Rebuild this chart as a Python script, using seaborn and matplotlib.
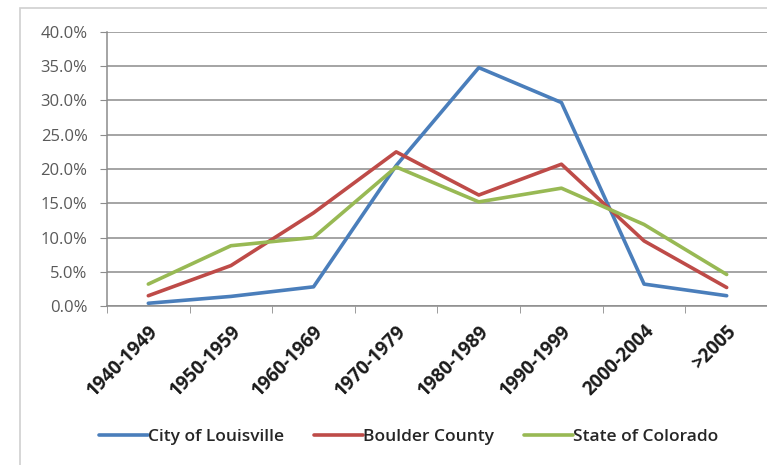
import matplotlib
matplotlib.use("Agg")
import matplotlib.pyplot as plt
from matplotlib.patches import Rectangle
from matplotlib.ticker import FuncFormatter, FixedLocator
import seaborn as sns
import pandas as pd

# Share of housing units by year built (%)
periods = ["1940-1949", "1950-1959", "1960-1969", "1970-1979",
           "1980-1989", "1990-1999", "2000-2004", ">2005"]
louisville = [0.4, 1.4, 2.8, 20.5, 34.8, 29.7, 3.2, 1.5]
boulder = [1.5, 5.9, 13.6, 22.5, 16.2, 20.7, 9.5, 2.7]
colorado = [3.2, 8.8, 10.0, 20.3, 15.2, 17.2, 11.9, 4.6]
series_names = ["City of Louisville", "Boulder County", "State of Colorado"]
colors = ["#4a7ebb", "#be4b48", "#98b954"]

frames = []
for name, vals in zip(series_names, [louisville, boulder, colorado]):
    frames.append(pd.DataFrame({"period": periods, "share": vals, "series": name}))
df = pd.concat(frames, ignore_index=True)

sns.set_style("white")
plt.rcParams["font.family"] = ["Open Sans", "DejaVu Sans"]

fig = plt.figure(figsize=(7.67, 4.65), dpi=100)
fig.patch.set_facecolor("white")
# chart frame
fig.patches.append(Rectangle((20 / 767, -0.1), 1.2, (465 - 8) / 465 + 0.1,
                             transform=fig.transFigure, fill=False,
                             edgecolor="#d0d0d0", linewidth=1.2))

ax = fig.add_axes([107 / 767, (465 - 306) / 465, 661 / 767, 274 / 465])
sns.lineplot(data=df, x="period", y="share", hue="series", palette=colors,
             linewidth=2.6, ax=ax, sort=False, legend=False)

ax.set_xlim(-0.5, len(periods) - 0.5)
ax.set_ylim(0, 40)
ax.set_yticks(range(0, 41, 5))
ax.yaxis.set_major_formatter(FuncFormatter(lambda v, p: f"{v:.1f}%"))
ax.grid(axis="y", color="#8c8c8c", linewidth=1.1)
ax.set_axisbelow(True)

ax.set_xticks(range(len(periods)))
ax.set_xticklabels(periods, rotation=45, ha="right", rotation_mode="anchor",
                   fontsize=13.5, fontweight="bold", color="#1a1a1a")
ax.xaxis.set_minor_locator(FixedLocator([i - 0.5 for i in range(len(periods) + 1)]))
ax.tick_params(axis="x", which="major", length=0, pad=11)
ax.tick_params(axis="x", which="minor", length=5, color="#8c8c8c", direction="out", bottom=True)
ax.tick_params(axis="y", length=5, color="#8c8c8c", direction="out", left=True,
               labelsize=12, labelcolor="#595959", pad=9)

for side in ["top", "right"]:
    ax.spines[side].set_visible(False)
for side in ["left", "bottom"]:
    ax.spines[side].set_color("#8c8c8c")
    ax.spines[side].set_linewidth(1.1)
ax.set_xlabel("")
ax.set_ylabel("")

handles = [plt.Line2D([], [], color=c, linewidth=2.6) for c in colors]
fig.legend(handles, series_names, loc="center", bbox_to_anchor=(0.533, 0.06),
           ncol=3, frameon=False, handlelength=2.8,
           handletextpad=0.05, columnspacing=1.7,
           prop={"size": 12.5, "weight": "semibold"})

fig.savefig("out.png", dpi=100, facecolor="white")
